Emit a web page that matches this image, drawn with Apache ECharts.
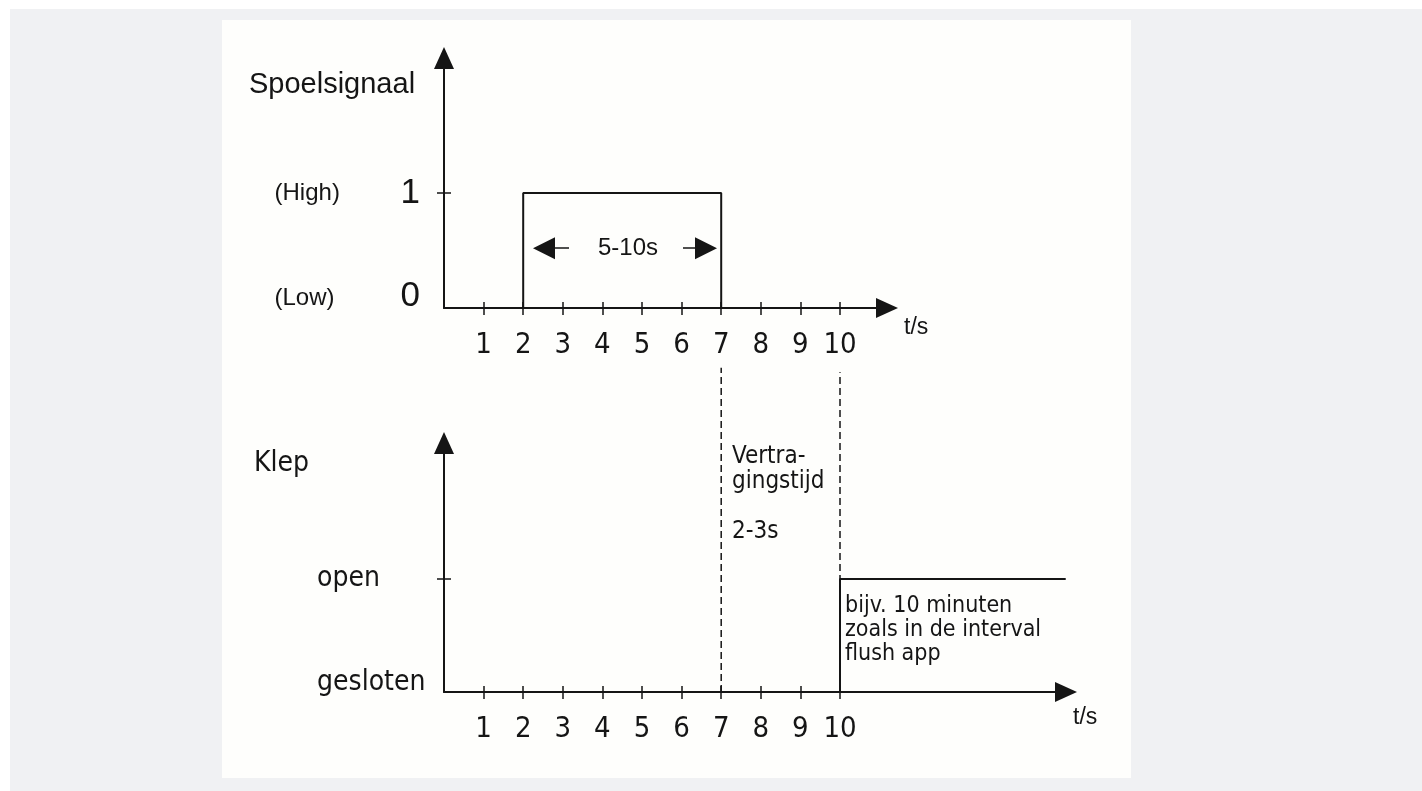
<!DOCTYPE html>
<html>
<head>
<meta charset="utf-8">
<script src="https://cdn.jsdelivr.net/npm/echarts@6/dist/echarts.min.js"></script>
<style>
  html, body { margin: 0; padding: 0; background: #ffffff; }
  .grey { position: absolute; left: 10px; top: 9px; width: 1412px; height: 782px; background: #f0f1f3; }
  .paper { position: absolute; left: 222px; top: 20px; width: 909px; height: 758px; background: #fefefc; }
  .chart { position: absolute; left: 0; top: 0; width: 1422px; height: 791px; }
</style>
</head>
<body>
<div class="grey"></div>
<div class="paper"></div>
<div class="chart" id="main"></div>
<script>
// tijdas (t/s)
var timeTicks = [1, 2, 3, 4, 5, 6, 7, 8, 9, 10];
var timeLabels = ['1', '2', '3', '4', '5', '6', '7', '8', '9', '10'];

// spoelsignaal: 0 = Low, 1 = High
var flushLevels = [0, 1];
var flushNames = ['(Low)', '(High)'];
var flushDigits = ['0', '1'];
var flushT = [2, 2, 7, 7];
var flushV = [0, 1, 1, 0];

// klep: 0 = gesloten, 1 = open
var valveLevels = [0, 1];
var valveNames = ['gesloten', 'open'];
var valveT = [10, 10, 15.7];
var valveV = [0, 1, 1];

// stippellijnen bij t = 7 en t = 10
var guideT = [7, 10];
var guideTop = [2.87, 2.83];

// pijltjes rond "5-10s"
var spanLeft = [2.525, 3.157];
var spanRight = [6.035, 6.616];
var spanLevel = 0.52;

var ink = '#151515';
var tahoma = 'DejaVu Sans Condensed';
var arial = 'Liberation Sans';

function pairs(xs, ys) {
  return xs.map(function (x, i) { return [x, ys[i]]; });
}

var myChart = echarts.init(document.getElementById('main'), null, { renderer: 'canvas' });

function mainX(gridIndex, max, nameGap, namePad, labelMargin) {
  return {
    type: 'value', gridIndex: gridIndex, min: 0, max: max, position: 'bottom',
    name: 't/s', nameLocation: 'end', nameGap: nameGap,
    nameTextStyle: { fontFamily: arial, fontSize: 23, color: ink, align: 'left', verticalAlign: 'top', padding: [namePad, 0, 0, 0] },
    axisLine: { show: true, onZero: false, symbol: ['none', 'triangle'], symbolSize: [20, 22], lineStyle: { color: ink, width: 2 } },
    axisTick: { show: true, customValues: timeTicks, length: 7, lineStyle: { color: ink, width: 1.5 } },
    axisLabel: {
      customValues: timeTicks, margin: labelMargin, color: ink, fontFamily: tahoma, fontSize: 29,
      formatter: function (v) { return timeLabels[timeTicks.indexOf(v)]; }
    },
    splitLine: { show: false }
  };
}
function decoX(gridIndex, max) {
  return {
    type: 'value', gridIndex: gridIndex, min: 0, max: max, position: 'bottom',
    axisLine: { show: false, onZero: false },
    axisTick: { show: true, inside: true, customValues: timeTicks, length: 6, lineStyle: { color: ink, width: 1.5 } },
    axisLabel: { show: false },
    splitLine: { show: false }
  };
}
function decoY(gridIndex, max) {
  return {
    type: 'value', gridIndex: gridIndex, min: 0, max: max, position: 'left',
    axisLine: { show: false, onZero: false },
    axisTick: { show: true, inside: true, customValues: [1], length: 7, lineStyle: { color: ink, width: 1.5 } },
    axisLabel: { show: false },
    splitLine: { show: false }
  };
}
var yLine = { show: true, onZero: false, symbol: ['none', 'triangle'], symbolSize: [20, 22], lineStyle: { color: ink, width: 2 } };
var yTick = { show: true, customValues: [1], length: 7, lineStyle: { color: ink, width: 1.5 } };

var option = {
  animation: false,
  textStyle: { fontFamily: arial },
  title: [
    { text: 'Spoelsignaal', left: 249, top: 70, padding: 0,
      textStyle: { fontFamily: arial, fontSize: 29, fontWeight: 'normal', color: ink } },
    { text: 'Klep', left: 254, top: 450, padding: 0,
      textStyle: { fontFamily: tahoma, fontSize: 28, fontWeight: 'normal', color: ink } }
  ],
  grid: [
    { left: 444, top: 58, width: 443, height: 250 },
    { left: 444, top: 443, width: 622, height: 249 }
  ],
  xAxis: [
    mainX(0, 443 / 39.6, 17, 8, 23),
    decoX(0, 443 / 39.6),
    mainX(1, 622 / 39.6, 7, 14, 23),
    decoX(1, 622 / 39.6)
  ],
  yAxis: [
    {
      type: 'value', gridIndex: 0, min: 0, max: 250 / 115, position: 'left',
      axisLine: yLine, axisTick: yTick, splitLine: { show: false },
      axisLabel: {
        customValues: flushLevels, margin: 24, color: ink,
        formatter: function (v) {
          var i = flushLevels.indexOf(v);
          var s = i === 0 ? 'lo' : '';
          return '{h' + s + '|' + flushNames[i] + '}{n' + s + '|' + flushDigits[i] + '}';
        },
        rich: {
          h: { fontFamily: arial, fontSize: 24, width: 126, align: 'left', color: ink },
          n: { fontFamily: arial, fontSize: 35, color: ink },
          hlo: { fontFamily: arial, fontSize: 24, width: 126, align: 'left', color: ink, padding: [0, 0, 20, 0] },
          nlo: { fontFamily: arial, fontSize: 35, color: ink, padding: [0, 0, 24, 0] }
        }
      }
    },
    decoY(0, 250 / 115),
    {
      type: 'value', gridIndex: 1, min: 0, max: 249 / 113, position: 'left',
      axisLine: yLine, axisTick: yTick, splitLine: { show: false },
      axisLabel: {
        customValues: valveLevels, margin: 127, align: 'left', color: ink,
        formatter: function (v) {
          var i = valveLevels.indexOf(v);
          return (i === 0 ? '{lo|' : '{n|') + valveNames[i] + '}';
        },
        rich: {
          n: { fontFamily: tahoma, fontSize: 28, color: ink },
          lo: { fontFamily: tahoma, fontSize: 28, color: ink, padding: [0, 0, 18, 0] }
        }
      }
    },
    decoY(1, 249 / 113)
  ],
  graphic: [
    { type: 'text', x: 628, y: 248, silent: true,
      style: { text: '5-10s', fontFamily: arial, fontSize: 24, fill: ink, align: 'center', verticalAlign: 'middle' } },
    { type: 'text', x: 732, y: 444, silent: true,
      style: { text: 'Vertra-\ngingstijd\n\n2-3s', fontFamily: tahoma, fontSize: 24, lineHeight: 25, fill: ink, align: 'left', verticalAlign: 'top' } },
    { type: 'text', x: 845, y: 594, silent: true,
      style: { text: 'bijv. 10 minuten\nzoals in de interval\nflush app', fontFamily: tahoma, fontSize: 23, lineHeight: 24, fill: ink, align: 'left', verticalAlign: 'top' } }
  ],
  series: [
    {
      name: 'Spoelsignaal', type: 'line', xAxisIndex: 0, yAxisIndex: 0,
      data: pairs(flushT, flushV), symbol: 'none', silent: true,
      lineStyle: { color: ink, width: 2 },
      markLine: {
        silent: true, symbol: ['triangle', 'none'], symbolSize: 22,
        label: { show: false },
        lineStyle: { color: ink, width: 1.5, type: 'solid' },
        data: [
          [{ coord: [spanLeft[0], spanLevel] }, { coord: [spanLeft[1], spanLevel] }],
          [{ coord: [spanRight[1], spanLevel], symbol: 'triangle' }, { coord: [spanRight[0], spanLevel], symbol: 'none' }]
        ]
      }
    },
    {
      name: 'Klep', type: 'line', xAxisIndex: 2, yAxisIndex: 2,
      data: pairs(valveT, valveV), symbol: 'none', silent: true,
      lineStyle: { color: ink, width: 2 }
    },
    {
      name: 'guide7', type: 'line', xAxisIndex: 2, yAxisIndex: 2, clip: false,
      data: [[guideT[0], 0], [guideT[0], guideTop[0]]], symbol: 'none', silent: true,
      lineStyle: { color: ink, width: 1.5, type: [7, 4] }
    },
    {
      name: 'guide10', type: 'line', xAxisIndex: 2, yAxisIndex: 2, clip: false,
      data: [[guideT[1], 0], [guideT[1], guideTop[1]]], symbol: 'none', silent: true,
      lineStyle: { color: ink, width: 1.5, type: [7, 4] }
    }
  ]
};

myChart.setOption(option);
</script>
</body>
</html>
